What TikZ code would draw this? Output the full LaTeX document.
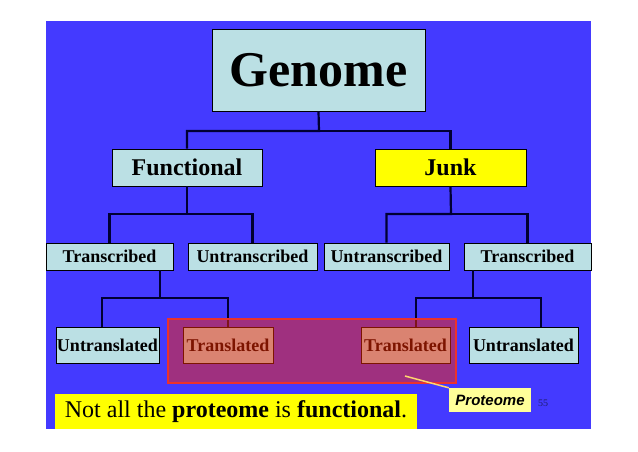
\documentclass[tikz,border=0pt]{standalone}
\usepackage{fontspec}
\setmainfont{Liberation Serif}
\newfontfamily\arialfont{Liberation Sans}
\usetikzlibrary{calc}
\definecolor{bgblue}{RGB}{68,58,255}
\definecolor{boxcyan}{RGB}{187,224,228}
\definecolor{junkyel}{RGB}{255,255,0}
\definecolor{protyel}{RGB}{255,255,153}
\definecolor{regred}{RGB}{235,50,45}
\definecolor{regfill}{RGB}{250,40,0}
\definecolor{linkyel}{RGB}{255,214,110}
\definecolor{pagenum}{RGB}{30,30,110}
\begin{document}
\begin{tikzpicture}[x=1pt,y=-1pt,
  box/.style={draw=black, line width=0.8pt, fill=boxcyan, inner sep=0pt,
    font=\bfseries\fontsize{18}{18}\selectfont},
  conn/.style={draw=black!80!blue, line width=2.2pt}]
\useasboundingbox (0,0) rectangle (638,451);
\fill[bgblue] (46,21) rectangle (591,429);
% bus points
\coordinate (b1) at (319,131);
\coordinate (b2) at (187,214);
\coordinate (b3) at (451,214);
\coordinate (b4) at (160,298);
\coordinate (b5) at (473,298);
% nodes
\node[box, minimum width=213pt, minimum height=82pt, font=\bfseries\fontsize{50}{50}\selectfont] (genome) at (318.5,70) {Genome};
\node[box, minimum width=150pt, minimum height=37pt, font=\bfseries\fontsize{24}{24}\selectfont] (func) at (187,167.5) {Functional};
\node[box, fill=junkyel, minimum width=151pt, minimum height=37pt, font=\bfseries\fontsize{24}{24}\selectfont] (junk) at (450.5,167.5) {Junk};
\node[box, minimum width=127pt, minimum height=27pt] (tr1) at (109.5,256.5) {Transcribed};
\node[box, minimum width=129pt, minimum height=27pt] (un1) at (252.5,256.5) {Untranscribed};
\node[box, minimum width=125pt, minimum height=27pt] (un2) at (386.5,256.5) {Untranscribed};
\node[box, minimum width=127pt, minimum height=27pt] (tr2) at (527.5,256.5) {Transcribed};
\node[box, minimum width=103pt, minimum height=36pt] (ul1) at (107.5,345) {Untranslated};
\node[box, minimum width=90pt, minimum height=36pt] (tl1) at (228,345) {Translated};
\node[box, minimum width=89pt, minimum height=36pt] (tl2) at (405.5,345) {Translated};
\node[box, minimum width=109pt, minimum height=36pt] (ul2) at (523.5,345) {Untranslated};
% connectors
\draw[conn] (genome.south) -- (b1) -| (func.north);
\draw[conn] (b1) -| (junk.north);
\draw[conn] (func.south) -- (b2) -| (tr1.north);
\draw[conn] (b2) -| (un1.north);
\draw[conn] (junk.south) -- (b3) -| (un2.north);
\draw[conn] (b3) -| (tr2.north);
\draw[conn] (tr1.south -| b4) -- (b4);
\draw[conn] ($(ul1.north)+(-5.5,0)$) |- (b4) -| (tl1.north);
\draw[conn] (tr2.south -| b5) -- (b5);
\draw[conn] ($(tl2.north)+(10.5,0)$) |- (b5) -| ($(ul2.north)+(17.5,0)$);
% proteome region
\node[draw=regred, line width=1.2pt, fill=regfill, fill opacity=0.5, inner sep=0pt,
  minimum width=288pt, minimum height=64pt] (prot) at (312,351) {};
% label
\coordinate (lp) at (405,376);
\node[fill=protyel, inner sep=0pt, minimum width=82pt, minimum height=24pt,
  font=\arialfont\bfseries\itshape\fontsize{15}{15}\selectfont] (plabel) at (490,400) {Proteome};
\draw[linkyel, line width=1.5pt] (lp) -- (plabel.north west);
\node[fill=junkyel, inner sep=0pt, minimum width=362pt, minimum height=35pt,
  font=\fontsize{24}{24}\selectfont] (note) at (236,411.5) {Not all the \textbf{proteome} is \textbf{functional}.};
\node[text=pagenum, inner sep=0pt, font=\fontsize{10}{10}\selectfont] (pnum) at (543,403) {55};
\end{tikzpicture}
\end{document}
